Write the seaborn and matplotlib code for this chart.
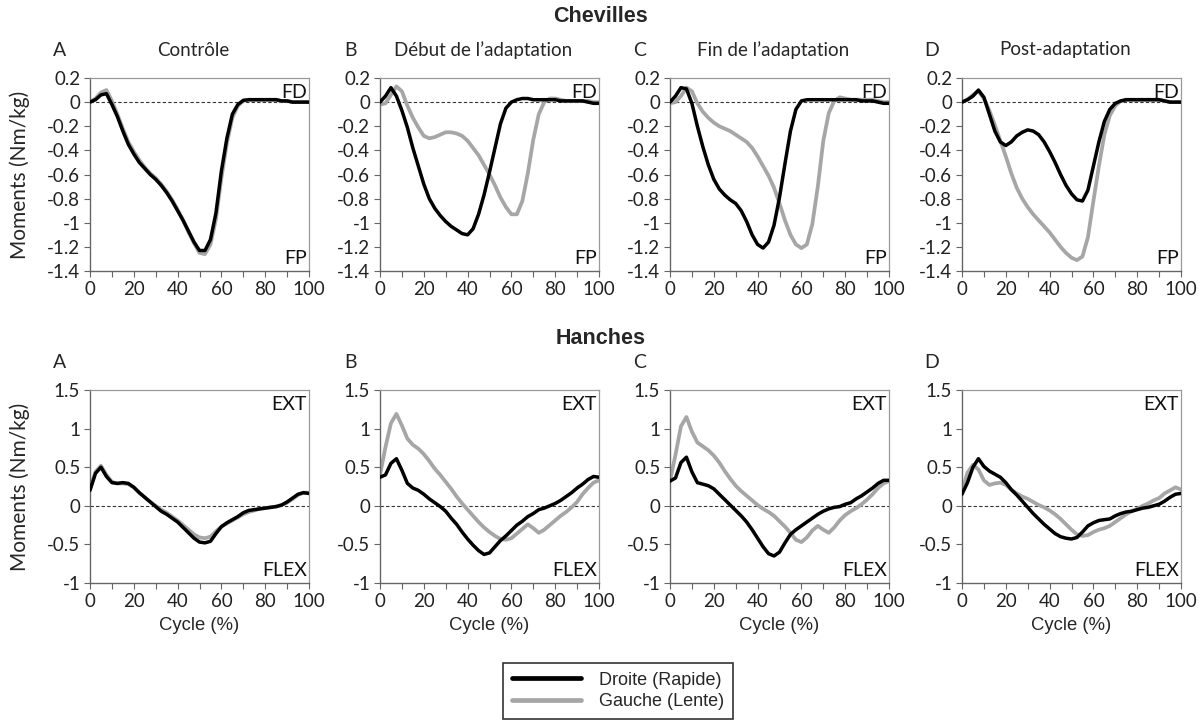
import matplotlib
matplotlib.use("Agg")
import matplotlib.pyplot as plt
import seaborn as sns
from matplotlib.lines import Line2D
from matplotlib.ticker import MultipleLocator, FuncFormatter

# cycle grid (%), one value every 2.5 %
cycle = [i * 2.5 for i in range(41)]

panel_letters = ["A", "B", "C", "D"]
conditions = ["Contrôle", "Début de l\u2019adaptation", "Fin de l\u2019adaptation", "Post-adaptation"]
series_names = ["Droite (Rapide)", "Gauche (Lente)"]

# ankle moments (Nm/kg)
ankle_right = [
    [0.0, 0.02, 0.06, 0.07, -0.02, -0.12, -0.24, -0.35, -0.43, -0.50, -0.55, -0.60, -0.64, -0.69,
     -0.75, -0.82, -0.90, -0.98, -1.07, -1.16, -1.23, -1.23, -1.14, -0.92, -0.57, -0.30, -0.10,
     -0.02, 0.015, 0.02, 0.02, 0.02, 0.02, 0.02, 0.02, 0.01, 0.01, 0.0, 0.0, 0.0, 0.0],
    [0.0, 0.05, 0.12, 0.05, -0.07, -0.21, -0.38, -0.53, -0.68, -0.80, -0.88, -0.94, -0.99, -1.03,
     -1.06, -1.09, -1.10, -1.05, -0.93, -0.77, -0.58, -0.38, -0.18, -0.05, 0.0, 0.02, 0.03,
     0.03, 0.02, 0.02, 0.02, 0.02, 0.02, 0.01, 0.01, 0.01, 0.01, 0.01, 0.0, -0.01, -0.01],
    [0.0, 0.05, 0.12, 0.11, -0.01, -0.20, -0.37, -0.52, -0.64, -0.72, -0.77, -0.81, -0.84, -0.90,
     -0.99, -1.10, -1.18, -1.21, -1.16, -1.02, -0.79, -0.51, -0.24, -0.06, 0.01, 0.02, 0.02,
     0.02, 0.02, 0.02, 0.02, 0.02, 0.02, 0.02, 0.02, 0.01, 0.01, 0.01, 0.0, -0.01, -0.01],
    [0.0, 0.02, 0.05, 0.10, 0.04, -0.10, -0.24, -0.33, -0.36, -0.33, -0.28, -0.25, -0.23, -0.24,
     -0.27, -0.33, -0.41, -0.50, -0.60, -0.69, -0.76, -0.81, -0.82, -0.73, -0.53, -0.33, -0.16,
     -0.06, -0.01, 0.01, 0.02, 0.02, 0.02, 0.02, 0.02, 0.02, 0.02, 0.01, 0.0, 0.0, 0.0],
]
ankle_left = [
    [0.0, 0.03, 0.08, 0.10, 0.01, -0.10, -0.22, -0.33, -0.41, -0.48, -0.54, -0.59, -0.63, -0.68,
     -0.74, -0.81, -0.89, -0.98, -1.08, -1.17, -1.25, -1.26, -1.18, -0.97, -0.63, -0.34, -0.13,
     -0.03, 0.01, 0.02, 0.02, 0.02, 0.02, 0.02, 0.02, 0.01, 0.01, 0.0, 0.0, 0.0, 0.0],
    [-0.02, -0.01, 0.06, 0.13, 0.09, -0.03, -0.13, -0.21, -0.28, -0.30, -0.29, -0.27, -0.25, -0.25,
     -0.26, -0.28, -0.32, -0.38, -0.44, -0.52, -0.60, -0.69, -0.79, -0.87, -0.93, -0.93, -0.82,
     -0.59, -0.31, -0.10, 0.0, 0.03, 0.03, 0.02, 0.01, 0.01, 0.01, 0.01, 0.01, 0.0, 0.0],
    [-0.01, 0.0, 0.05, 0.12, 0.09, -0.01, -0.08, -0.13, -0.17, -0.20, -0.22, -0.24, -0.27, -0.30,
     -0.33, -0.38, -0.45, -0.53, -0.61, -0.71, -0.84, -0.98, -1.10, -1.18, -1.21, -1.18, -1.01,
     -0.70, -0.32, -0.09, 0.01, 0.04, 0.03, 0.02, 0.02, 0.02, 0.02, 0.02, 0.01, 0.0, 0.0],
    [0.0, 0.02, 0.06, 0.09, 0.03, -0.07, -0.19, -0.32, -0.45, -0.59, -0.71, -0.80, -0.87, -0.93,
     -0.98, -1.03, -1.08, -1.14, -1.20, -1.25, -1.29, -1.31, -1.28, -1.12, -0.82, -0.53, -0.27,
     -0.11, -0.03, 0.01, 0.02, 0.02, 0.02, 0.02, 0.02, 0.02, 0.02, 0.01, 0.0, 0.0, 0.0],
]

# hip moments (Nm/kg)
hip_right = [
    [0.20, 0.42, 0.50, 0.38, 0.30, 0.29, 0.30, 0.29, 0.24, 0.17, 0.11, 0.05, -0.01, -0.07,
     -0.11, -0.16, -0.21, -0.28, -0.35, -0.42, -0.47, -0.48, -0.46, -0.36, -0.27, -0.22, -0.18,
     -0.14, -0.09, -0.06, -0.05, -0.04, -0.03, -0.02, -0.01, 0.01, 0.05, 0.10, 0.15, 0.17, 0.16],
    [0.37, 0.40, 0.55, 0.61, 0.46, 0.29, 0.23, 0.20, 0.15, 0.09, 0.04, -0.01, -0.07, -0.16,
     -0.24, -0.34, -0.43, -0.51, -0.58, -0.63, -0.61, -0.53, -0.45, -0.39, -0.32, -0.25, -0.20,
     -0.14, -0.10, -0.05, -0.03, 0.0, 0.03, 0.07, 0.12, 0.17, 0.23, 0.28, 0.34, 0.38, 0.37],
    [0.32, 0.36, 0.56, 0.63, 0.44, 0.30, 0.28, 0.26, 0.22, 0.15, 0.08, 0.01, -0.06, -0.13,
     -0.21, -0.31, -0.42, -0.53, -0.62, -0.65, -0.60, -0.48, -0.37, -0.31, -0.26, -0.21, -0.16,
     -0.11, -0.07, -0.04, -0.02, -0.01, 0.02, 0.04, 0.09, 0.13, 0.18, 0.23, 0.29, 0.33, 0.33],
    [0.15, 0.30, 0.50, 0.61, 0.51, 0.45, 0.41, 0.37, 0.30, 0.21, 0.14, 0.06, -0.02, -0.10,
     -0.17, -0.24, -0.30, -0.36, -0.40, -0.42, -0.43, -0.41, -0.34, -0.26, -0.22, -0.19, -0.18,
     -0.17, -0.13, -0.10, -0.08, -0.07, -0.05, -0.03, -0.02, 0.0, 0.02, 0.06, 0.11, 0.15, 0.16],
]
hip_left = [
    [0.22, 0.44, 0.52, 0.40, 0.31, 0.29, 0.29, 0.28, 0.24, 0.17, 0.11, 0.05, 0.0, -0.05,
     -0.09, -0.14, -0.19, -0.25, -0.31, -0.37, -0.41, -0.42, -0.40, -0.33, -0.27, -0.23, -0.19,
     -0.15, -0.11, -0.08, -0.06, -0.04, -0.03, -0.02, -0.01, 0.01, 0.04, 0.09, 0.14, 0.17, 0.17],
    [0.40, 0.76, 1.07, 1.19, 1.04, 0.87, 0.79, 0.74, 0.67, 0.58, 0.48, 0.40, 0.31, 0.22,
     0.12, 0.03, -0.05, -0.13, -0.21, -0.28, -0.34, -0.39, -0.43, -0.44, -0.42, -0.36, -0.30,
     -0.24, -0.29, -0.35, -0.31, -0.25, -0.19, -0.13, -0.08, -0.02, 0.05, 0.15, 0.23, 0.30, 0.33],
    [0.32, 0.66, 1.03, 1.15, 0.96, 0.82, 0.77, 0.72, 0.65, 0.56, 0.45, 0.35, 0.26, 0.19,
     0.13, 0.07, 0.01, -0.04, -0.08, -0.13, -0.20, -0.27, -0.35, -0.44, -0.47, -0.41, -0.32,
     -0.26, -0.31, -0.35, -0.28, -0.19, -0.12, -0.07, -0.03, 0.02, 0.08, 0.15, 0.23, 0.29, 0.32],
    [0.18, 0.43, 0.53, 0.47, 0.33, 0.27, 0.29, 0.30, 0.27, 0.21, 0.16, 0.12, 0.09, 0.05,
     0.01, -0.02, -0.06, -0.11, -0.17, -0.24, -0.31, -0.37, -0.39, -0.38, -0.34, -0.31, -0.29,
     -0.26, -0.21, -0.16, -0.11, -0.07, -0.04, 0.0, 0.03, 0.07, 0.10, 0.16, 0.20, 0.24, 0.21],
]

BLACK = "#000000"
GREY = "#a6a6a6"
TICK_FONT = ["Lato", "DejaVu Sans"]
ARIAL = ["Liberation Sans", "DejaVu Sans"]

sns.set_theme(style="white")
plt.rcParams["font.family"] = ARIAL

fig = plt.figure(figsize=(12.02, 7.23), dpi=100)
W, H = 1202.0, 723.0
lefts = [90, 380, 670, 962]
axw = 219
rows = [
    dict(top=78, bottom=271, right=ankle_right, left=ankle_left, ylim=(-1.4, 0.2), step=0.2,
         hi="FD", lo="FP"),
    dict(top=390, bottom=583, right=hip_right, left=hip_left, ylim=(-1.0, 1.5), step=0.5,
         hi="EXT", lo="FLEX"),
]


def fmt_tick(v, _):
    v = round(v, 2)
    if abs(v) < 1e-9:
        return "0"
    return f"{v:g}"


for r, row in enumerate(rows):
    for c in range(4):
        ax = fig.add_axes([lefts[c] / W, 1 - row["bottom"] / H, axw / W,
                           (row["bottom"] - row["top"]) / H])
        ax.axhline(0, color="#333333", lw=0.8, ls=(0, (3, 2)), zorder=1)
        sns.lineplot(x=cycle, y=row["left"][c], ax=ax, color=GREY, lw=2.7, zorder=2)
        sns.lineplot(x=cycle, y=row["right"][c], ax=ax, color=BLACK, lw=2.5, zorder=3)
        ax.set_xlim(0, 100)
        ax.set_ylim(*row["ylim"])
        ax.yaxis.set_major_locator(MultipleLocator(row["step"]))
        ax.yaxis.set_major_formatter(FuncFormatter(fmt_tick))
        ax.xaxis.set_major_locator(MultipleLocator(10))
        ax.xaxis.set_major_formatter(
            FuncFormatter(lambda v, _: f"{int(round(v))}" if int(round(v)) % 20 == 0 else ""))
        ax.tick_params(axis="both", direction="out", length=4, width=0.8, color="#666666",
                       labelsize=13.5, pad=3, bottom=True, left=True)
        for lab in ax.get_xticklabels() + ax.get_yticklabels():
            lab.set_family(TICK_FONT)
            lab.set_color("#222222")
        for side in ["left", "bottom"]:
            ax.spines[side].set_color("#666666")
            ax.spines[side].set_linewidth(1.0)
        for side in ["top", "right"]:
            ax.spines[side].set_color("#9a9a9a")
            ax.spines[side].set_linewidth(0.9)
        ax.set_xlabel("")
        ax.set_ylabel("")
        ax.text(0.99, 0.97, row["hi"], transform=ax.transAxes, ha="right", va="top",
                fontsize=14, family=TICK_FONT, color="#111111")
        ax.text(0.99, 0.02, row["lo"], transform=ax.transAxes, ha="right", va="bottom",
                fontsize=14, family=TICK_FONT, color="#111111")
        ax.text((lefts[c] - 30) / W, 1 - (row["top"] - 28) / H, panel_letters[c],
                transform=fig.transFigure, ha="center", va="center", fontsize=14,
                family=TICK_FONT)
        if r == 0:
            ax.text(0.47, 1 + 28 / 193.0, conditions[c],
                    transform=ax.transAxes, ha="center", va="center", fontsize=13.5,
                    family=TICK_FONT)
        if r == 1:
            ax.set_xlabel("Cycle (%)", fontsize=13.3, labelpad=5, family=ARIAL)
        if c == 0:
            ax.set_ylabel("Moments (Nm/kg)", fontsize=15, labelpad=12, family=TICK_FONT)

fig.text(0.5, 1 - 16 / H, "Chevilles", ha="center", va="center", fontsize=15.5,
         fontweight="bold")
fig.text(0.5, 1 - 338 / H, "Hanches", ha="center", va="center", fontsize=15.5,
         fontweight="bold")

handles = [Line2D([], [], color=BLACK, lw=3.4), Line2D([], [], color=GREY, lw=3.4)]
leg = fig.legend(handles, series_names, loc="center", bbox_to_anchor=(618 / W, 1 - 691 / H),
                 frameon=True, fancybox=False, fontsize=13, handlelength=3.8,
                 borderpad=0.5, labelspacing=0.25, handletextpad=1.0)
leg.get_frame().set_edgecolor("black")
leg.get_frame().set_linewidth(1.2)

fig.savefig("out.png", dpi=100)
